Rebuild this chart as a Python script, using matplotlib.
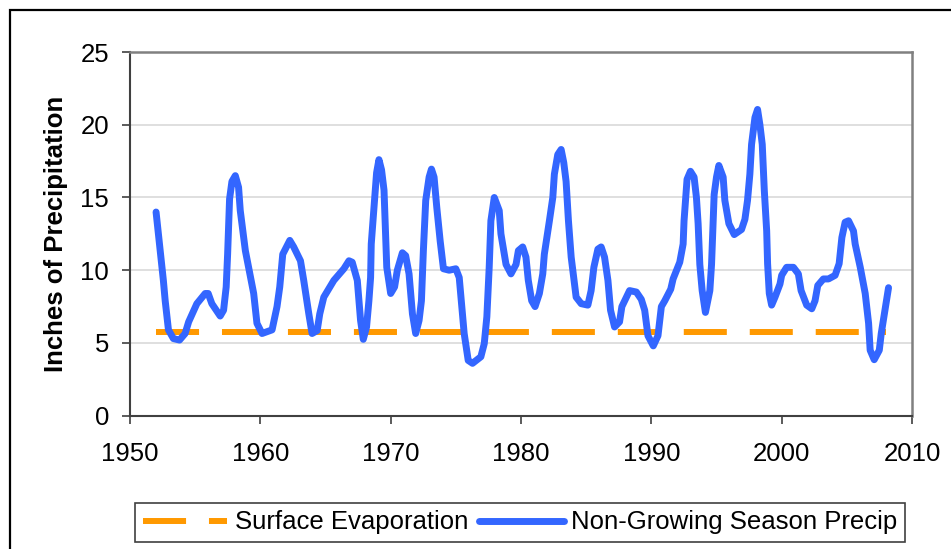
import matplotlib
matplotlib.use("Agg")
import matplotlib.pyplot as plt
from matplotlib.patches import Rectangle

plt.rcParams['font.family'] = ['Liberation Sans', 'DejaVu Sans']
plt.rcParams['lines.scale_dashes'] = False

# non-growing season precip
years = [1952.0, 1952.56, 1952.7, 1952.95, 1953.33, 1953.8, 1954.23, 1954.5, 1955.13, 1955.77,
         1956.0, 1956.28, 1956.92, 1957.18, 1957.38, 1957.49, 1957.64, 1957.82, 1958.08, 1958.33,
         1958.46, 1958.85, 1959.49, 1959.74, 1960.13, 1960.9, 1961.28, 1961.49, 1961.72, 1962.26,
         1962.56, 1963.08, 1963.33, 1963.72, 1963.97, 1964.36, 1964.56, 1964.87, 1965.64, 1966.41,
         1966.8, 1967.05, 1967.44, 1967.69, 1967.9, 1968.15, 1968.33, 1968.46, 1968.51, 1968.72,
         1968.92, 1969.1, 1969.3, 1969.49, 1969.7, 1970.0, 1970.3, 1970.51, 1970.9, 1971.15,
         1971.41, 1971.67, 1971.92, 1972.18, 1972.36, 1972.51, 1972.69, 1972.95, 1973.13, 1973.33,
         1973.54, 1973.8, 1974.05, 1974.49, 1975.0, 1975.26, 1975.46, 1975.64, 1975.95, 1976.28,
         1976.92, 1977.18, 1977.38, 1977.56, 1977.69, 1977.95, 1978.33, 1978.46, 1978.85, 1979.23,
         1979.62, 1979.8, 1980.13, 1980.38, 1980.56, 1980.82, 1981.08, 1981.41, 1981.67, 1981.79,
         1982.18, 1982.44, 1982.56, 1982.82, 1983.08, 1983.28, 1983.46, 1983.64, 1983.85, 1984.23,
         1984.62, 1985.13, 1985.38, 1985.59, 1985.9, 1986.15, 1986.41, 1986.67, 1986.87, 1987.18,
         1987.56, 1987.74, 1988.33, 1988.85, 1989.23, 1989.49, 1989.74, 1990.15, 1990.51, 1990.77,
         1991.03, 1991.49, 1991.67, 1992.18, 1992.44, 1992.51, 1992.74, 1993.0, 1993.28, 1993.46,
         1993.59, 1993.72, 1993.9, 1994.15, 1994.49, 1994.62, 1994.74, 1994.82, 1995.0, 1995.18,
         1995.51, 1995.64, 1995.95, 1996.36, 1996.92, 1997.18, 1997.38, 1997.56, 1997.69, 1997.95,
         1998.15, 1998.33, 1998.51, 1998.67, 1998.85, 1998.92, 1999.05, 1999.23, 1999.49, 1999.87,
         2000.0, 2000.38, 2000.9, 2001.28, 2001.49, 2001.92, 2002.31, 2002.56, 2002.77, 2003.2,
         2003.59, 2004.1, 2004.41, 2004.62, 2004.87, 2005.13, 2005.51, 2005.64, 2006.03, 2006.41,
         2006.67, 2006.79, 2007.1, 2007.49, 2007.64, 2008.2]
precip = [14.0, 9.3, 7.9, 5.9, 5.3, 5.2, 5.65, 6.45, 7.7, 8.4,
          8.4, 7.7, 6.85, 7.25, 8.85, 11.1, 14.9, 16.1, 16.5, 15.7,
          14.1, 11.35, 8.4, 6.35, 5.65, 5.9, 7.5, 8.85, 11.1, 12.05,
          11.6, 10.65, 9.3, 7.0, 5.65, 5.85, 7.0, 8.15, 9.3, 10.1,
          10.65, 10.55, 9.3, 6.55, 5.25, 6.1, 7.9, 9.5, 11.8, 14.3,
          16.7, 17.6, 16.9, 15.5, 10.2, 8.4, 8.85, 10.0, 11.2, 11.0,
          9.75, 7.0, 5.65, 6.55, 7.9, 11.35, 14.8, 16.4, 16.95, 16.4,
          14.3, 12.0, 10.1, 10.0, 10.1, 9.5, 7.5, 5.65, 3.8, 3.6,
          4.05, 4.95, 6.8, 10.2, 13.4, 15.0, 14.1, 12.5, 10.4, 9.75,
          10.4, 11.35, 11.6, 10.9, 9.3, 7.9, 7.5, 8.4, 9.75, 11.1,
          13.4, 15.0, 16.6, 17.95, 18.3, 17.4, 16.1, 13.4, 10.9, 8.15,
          7.7, 7.6, 8.6, 10.2, 11.45, 11.6, 10.9, 9.3, 7.25, 6.1,
          6.45, 7.5, 8.6, 8.5, 8.0, 7.25, 5.5, 4.8, 5.5, 7.5,
          7.9, 8.7, 9.4, 10.55, 11.8, 13.4, 16.25, 16.8, 16.4, 15.0,
          13.2, 10.4, 8.6, 7.1, 8.6, 10.4, 13.2, 15.2, 16.4, 17.2,
          16.4, 14.8, 13.2, 12.45, 12.8, 13.5, 14.8, 16.6, 18.65, 20.5,
          21.05, 20.0, 18.65, 15.45, 12.7, 10.45, 8.4, 7.6, 8.15, 9.05,
          9.65, 10.2, 10.2, 9.75, 8.6, 7.6, 7.35, 7.9, 8.95, 9.4,
          9.4, 9.65, 10.45, 12.25, 13.3, 13.4, 12.7, 11.8, 10.2, 8.4,
          6.35, 4.5, 3.85, 4.5, 5.65, 8.8]

# surface evaporation (constant)
evap_years = [1952, 2008]
evap = [5.75, 5.75]

x_ticks = [1950, 1960, 1970, 1980, 1990, 2000, 2010]
y_ticks = [0, 5, 10, 15, 20, 25]

fig = plt.figure(figsize=(9.51, 5.49), dpi=100)
ax = fig.add_axes([130/951, 1 - 415.7/549, (912 - 130)/951, (415.7 - 52)/549])

ax.plot(evap_years, evap, color='#FF9900', lw=4.3, dashes=(31, 16.5),
        dash_capstyle='butt', label='Surface Evaporation', zorder=3)
ax.plot(years, precip, color='#3366FF', lw=5, solid_joinstyle='round',
        solid_capstyle='round', label='Non-Growing Season Precip', zorder=4)

ax.set_xlim(1950, 2010)
ax.set_ylim(0, 25)
ax.set_xticks(x_ticks)
ax.set_yticks(y_ticks)
ax.tick_params(labelsize=18.5, length=6, width=1.2, color='#404040', direction='out')
ax.tick_params(axis='y', pad=9)
ax.tick_params(axis='x', pad=13)
ax.grid(axis='y', color='#d9d9d9', lw=1.2, zorder=0)
ax.set_axisbelow(True)

for s in ['left', 'bottom']:
    ax.spines[s].set_color('#404040')
    ax.spines[s].set_linewidth(1.5)
for s in ['top', 'right']:
    ax.spines[s].set_color('#808080')
    ax.spines[s].set_linewidth(1.8)

ax.set_ylabel('Inches of Precipitation', fontsize=18.5, fontweight='bold', labelpad=9)

leg = fig.legend(loc='center', bbox_to_anchor=(520/951, 1 - 522.5/549), ncol=2,
                 fontsize=18.5, handlelength=3.3, handletextpad=0.28, columnspacing=0.44,
                 borderpad=0.3, fancybox=False, edgecolor='#404040', framealpha=1)
leg.get_frame().set_linewidth(1.2)

# outer chart border
fig.patches.append(Rectangle((10/951, -0.2), 1.2, 1 - 10/549 + 0.2, transform=fig.transFigure,
                             fill=False, edgecolor='black', lw=1.6))

fig.savefig('out.png', dpi=100)
